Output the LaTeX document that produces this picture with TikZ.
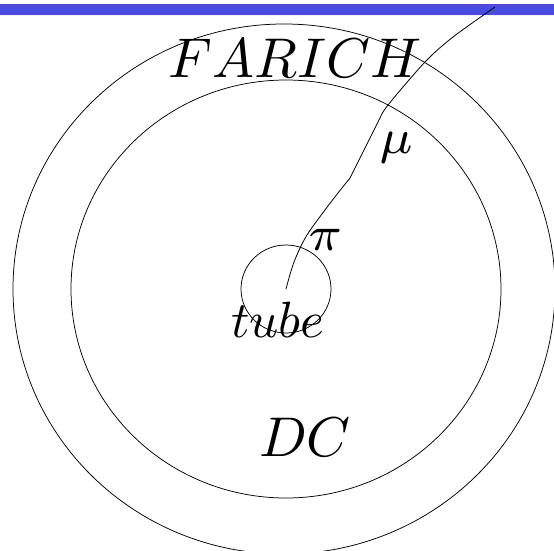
\documentclass[tikz,border=0pt]{standalone}
\usepackage{amsmath}
\usepackage{amssymb}
\definecolor{barblue}{HTML}{4B4BE0}

\begin{document}
\begin{tikzpicture}[
x=1pt,y=-1pt,
ring/.style={draw,line width=0.75pt},
track/.style={draw,line width=0.8pt},
biglabel/.style={scale=5.6,inner sep=0pt},
tubelabel/.style={scale=5.1,inner sep=0pt},
greeklabel/.style={scale=7,inner sep=0pt}
]

\useasboundingbox (0,0) rectangle (554,551);
\fill[barblue] (0,4) rectangle (554,14.6);

\draw[ring] (284,289) ellipse [x radius=271pt,y radius=265pt];
\draw[ring] (286,289) ellipse [x radius=215pt,y radius=209pt];
\draw[ring] (286,289) ellipse [x radius=45pt,y radius=44pt];

\node[biglabel] (farich) at (295,58) {$FARICH$};
\node[biglabel] (dc) at (305,437) {$DC$};
\node[tubelabel] (tube) at (278,320) {$tube$};
\node[greeklabel] (pi) at (326,240) {$\scriptstyle\pi$};
\node[greeklabel] (mu) at (397,148) {$\scriptstyle\mu$};

\draw[track] plot[smooth,tension=0.5] coordinates {(286,289) (294,262) (307,235) (331,202) (350,178)};
\draw[track] (350,178) -- (380,118);
\draw[track] plot[smooth,tension=0.5] coordinates {(380,118) (388,105) (425,62) (453,37) (495,7)};

\end{tikzpicture}
\end{document}
